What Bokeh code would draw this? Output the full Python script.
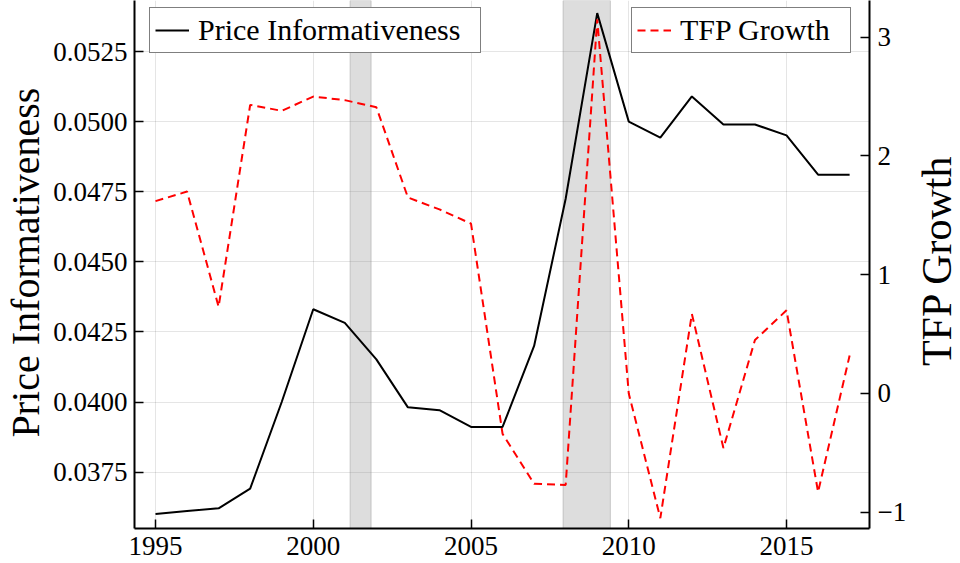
import math
from bokeh.plotting import figure
from bokeh.layouts import row
from bokeh.models import (Range1d, LinearAxis, FixedTicker, Legend, LegendItem,
                          BoxAnnotation, Label)
from bokeh.embed import file_html
from bokeh.resources import INLINE

# ---------------- data ----------------
years = list(range(1995, 2018))
price_informativeness = [0.03601, 0.03611, 0.03621, 0.03691, 0.04000, 0.04331,
                         0.04282, 0.04152, 0.03981, 0.03971, 0.03911, 0.03911,
                         0.04200, 0.04725, 0.05387, 0.05000, 0.04943, 0.05090,
                         0.04990, 0.04990, 0.04951, 0.04811, 0.04811]
tfp_growth = [1.62, 1.70, 0.73, 2.43, 2.38, 2.50, 2.47, 2.41, 1.65, 1.55, 1.43,
              -0.34, -0.76, -0.77, 3.15, 0.00, -1.05, 0.67, -0.46, 0.45, 0.70,
              -0.83, 0.32]

recession_start = [2001.167, 2007.917]
recession_end = [2001.833, 2009.417]

x_ticks = [1995, 2000, 2005, 2010, 2015]
pi_ticks = [0.0375, 0.0400, 0.0425, 0.0450, 0.0475, 0.0500, 0.0525]
pi_tick_labels = ["0.0375", "0.0400", "0.0425", "0.0450", "0.0475", "0.0500", "0.0525"]
tfp_ticks = [-1, 0, 1, 2, 3]
tfp_tick_labels = ["\u22121", "0", "1", "2", "3"]

left_title = "Price Informativeness"
right_title = "TFP Growth"

FONT = "Liberation Serif"
H = 563

# ---------------- main figure ----------------
p = figure(width=869, height=H,
           x_range=Range1d(1994.334, 2017.63),
           y_range=Range1d(0.035489, 0.054321),
           output_backend="svg", toolbar_location=None,
           min_border_left=88, min_border_right=46,
           min_border_top=0, min_border_bottom=35,
           outline_line_color=None,
           background_fill_color="white", border_fill_color="white")
p.extra_y_ranges = {"tfp": Range1d(-1.137, 3.309)}

# recession shading
for s, e in zip(recession_start, recession_end):
    p.add_layout(BoxAnnotation(left=s, right=e, fill_color="#808080", fill_alpha=0.27,
                               line_color="#808080", line_alpha=0.35, line_width=1,
                               level="underlay"))

r1 = p.line(years, price_informativeness, line_color="black", line_width=2)
r2 = p.line(years, tfp_growth, y_range_name="tfp", line_color="#ff0000",
            line_width=2, line_dash="8 5")

# grid
p.xgrid.ticker = FixedTicker(ticks=x_ticks)
p.ygrid.ticker = FixedTicker(ticks=pi_ticks)
for g in (p.xgrid[0], p.ygrid[0]):
    g.grid_line_color = "black"
    g.grid_line_alpha = 0.1
    g.grid_line_width = 1

# right axis
right_axis = LinearAxis(y_range_name="tfp")
p.add_layout(right_axis, "right")

p.xaxis.ticker = FixedTicker(ticks=x_ticks)
p.yaxis[0].ticker = FixedTicker(ticks=pi_ticks)
p.yaxis[0].major_label_overrides = dict(zip(pi_ticks, pi_tick_labels))
right_axis.ticker = FixedTicker(ticks=tfp_ticks)
right_axis.major_label_overrides = dict(zip(tfp_ticks, tfp_tick_labels))

for ax in [p.xaxis[0], p.yaxis[0], right_axis]:
    ax.axis_line_width = 2
    ax.axis_line_color = "black"
    ax.major_tick_in = 9
    ax.major_tick_out = 0
    ax.major_tick_line_width = 1.5
    ax.major_tick_line_color = "black"
    ax.minor_tick_line_color = None
    ax.major_label_text_font = FONT
    ax.major_label_text_font_size = "27px"
    ax.major_label_text_color = "black"
    ax.major_label_standoff = 8

p.xaxis[0].major_label_standoff = 8
p.yaxis[0].major_label_standoff = 7

# legends
def make_legend(item, loc, lw):
    return Legend(items=[item], location=loc, orientation="vertical",
                  label_text_font=FONT, label_text_font_size="30px",
                  label_text_color="black", label_text_line_height=1.0,
                  glyph_width=34, glyph_height=20, label_height=20, label_width=lw,
                  label_standoff=9, padding=5, spacing=0, margin=0,
                  border_line_color="black", border_line_width=1.5,
                  background_fill_color="white", background_fill_alpha=1.0)

leg1 = make_legend(LegendItem(label="Price Informativeness", renderers=[r1]), (15, 475), 277)
leg2 = make_legend(LegendItem(label="TFP Growth", renderers=[r2]), (497, 475), 165)
p.add_layout(leg1, "center")
p.add_layout(leg2, "center")

# ---------------- axis-title strips (text reads bottom-to-top) ----------------
# (the strips' frames are aligned with the main frame by the row layout)
def title_strip(width, text, x, y, size):
    f = figure(width=width, height=H, output_backend="svg", toolbar_location=None,
               x_axis_location=None, y_axis_location=None,
               x_range=Range1d(0, 1), y_range=Range1d(0, 1),
               min_border=0, outline_line_color=None,
               background_fill_color="white", border_fill_color="white")
    f.xgrid.visible = False
    f.ygrid.visible = False
    f.add_layout(Label(x=x, y=y, x_units="screen", y_units="screen", text=text,
                       angle=math.pi / 2, angle_units="rad",
                       text_align="center", text_baseline="alphabetic",
                       text_font=FONT, text_font_size=size, text_color="black"))
    return f

left_strip = title_strip(46, left_title, 24.5, 266, "40px")
right_strip = title_strip(45, right_title, 21, 268, "42px")

layout = row(left_strip, p, right_strip, spacing=0)

open("out.html", "w").write(file_html(layout, INLINE))
